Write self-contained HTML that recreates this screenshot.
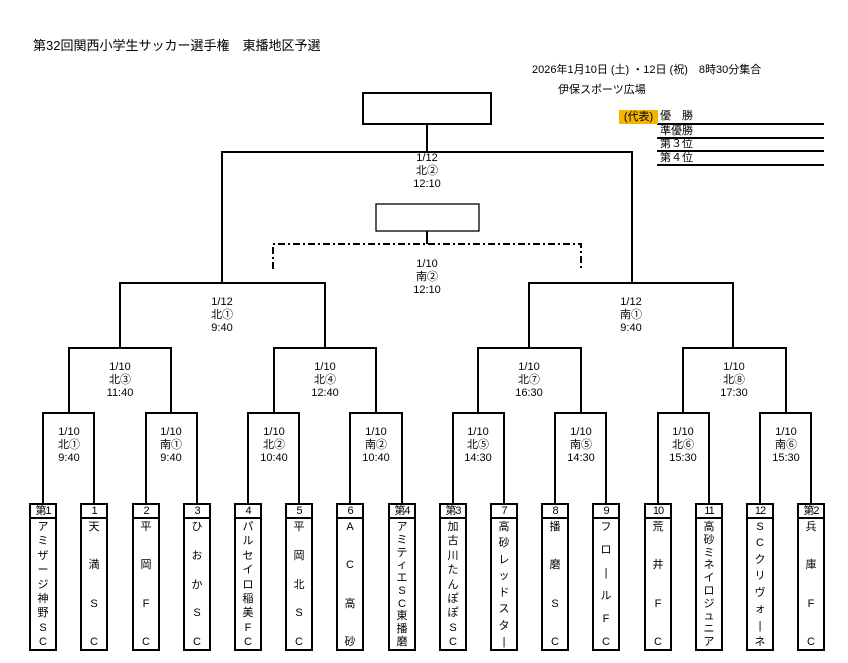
<!DOCTYPE html>
<html><head><meta charset="utf-8"><style>
body{margin:0;width:848px;height:663px;background:#fff;position:relative;overflow:hidden;font-family:"Liberation Sans","Noto Sans CJK JP",sans-serif;color:#000}
.t{position:absolute;white-space:nowrap}
.lab{position:absolute;width:80px;margin-left:-40px;text-align:center;font-size:11px;line-height:13px}
.box{position:absolute;top:503px;width:24px;height:144px;border:2px solid #000;margin-left:-14px;background:#fff}
.num{height:12px;border-bottom:2px solid #000;font-size:11px;line-height:12px;text-align:center;letter-spacing:-1px}
.nm{height:127px;display:flex;flex-direction:column;justify-content:space-between;align-items:center;font-size:11px;line-height:12px;padding:2px 0 0}
.lg{position:absolute;left:660px;font-size:11px;line-height:12px}
</style></head><body>
<svg width="848" height="663" style="position:absolute;left:0;top:0" fill="none" stroke="#000" stroke-width="2">
<rect x="363" y="93" width="128" height="31"/>
<path d="M427 124V152M222 283V152H632V283"/>
<rect x="376" y="204" width="103" height="27" stroke-width="1.3"/>
<path d="M427 231V244" />
<path d="M273 269V244H581V269" stroke-dasharray="7 3 2 3"/>
<path d="M120 348V283H325V348M529 348V283H733V348"/>
<path d="M69 413V348H171V413M274 413V348H376V413M478 413V348H581V413M683 413V348H786V413"/>
<path d="M43 504V413H94V504M146 504V413H197V504M248 504V413H299V504M350 504V413H402V504M453 504V413H504V504M555 504V413H606V504M658 504V413H709V504M760 504V413H811V504"/>
<path d="M657 124H824M657 138H824M657 151H824M657 165H824" stroke-width="2"/>
</svg>
<div class="t" style="left:33px;top:35px;font-size:13px">第32回関西小学生サッカー選手権　東播地区予選</div>
<div class="t" style="left:532px;top:61px;font-size:11px">2026年1月10日 (土) ・12日 (祝)　8時30分集合</div>
<div class="t" style="left:558px;top:81px;font-size:11px">伊保スポーツ広場</div>
<div class="t" style="left:619px;top:110px;width:39px;height:14px;background:#f5b400;font-size:11px;line-height:14px;text-align:center">(代表)</div>
<div class="lg" style="top:110px">優　勝</div>
<div class="lg" style="top:125px">準優勝</div>
<div class="lg" style="top:138px">第３位</div>
<div class="lg" style="top:152px">第４位</div>
<div class="lab" style="left:427px;top:152px">1/12<br>北②<br>12:10</div>
<div class="lab" style="left:427px;top:258px">1/10<br>南②<br>12:10</div>
<div class="lab" style="left:222px;top:296px">1/12<br>北①<br>9:40</div>
<div class="lab" style="left:631px;top:296px">1/12<br>南①<br>9:40</div>
<div class="lab" style="left:120px;top:361px">1/10<br>北③<br>11:40</div>
<div class="lab" style="left:325px;top:361px">1/10<br>北④<br>12:40</div>
<div class="lab" style="left:529px;top:361px">1/10<br>北⑦<br>16:30</div>
<div class="lab" style="left:734px;top:361px">1/10<br>北⑧<br>17:30</div>
<div class="lab" style="left:69px;top:426px">1/10<br>北①<br>9:40</div>
<div class="lab" style="left:171px;top:426px">1/10<br>南①<br>9:40</div>
<div class="lab" style="left:274px;top:426px">1/10<br>北②<br>10:40</div>
<div class="lab" style="left:376px;top:426px">1/10<br>南②<br>10:40</div>
<div class="lab" style="left:478px;top:426px">1/10<br>北⑤<br>14:30</div>
<div class="lab" style="left:581px;top:426px">1/10<br>南⑤<br>14:30</div>
<div class="lab" style="left:683px;top:426px">1/10<br>北⑥<br>15:30</div>
<div class="lab" style="left:786px;top:426px">1/10<br>南⑥<br>15:30</div>

<div class="box" style="left:43px"><div class="num">第1</div><div class="nm"><span>ア</span><span>ミ</span><span>ザ</span><span>ー</span><span>ジ</span><span>神</span><span>野</span><span>S</span><span>C</span></div></div>
<div class="box" style="left:94px"><div class="num">1</div><div class="nm"><span>天</span><span>満</span><span>S</span><span>C</span></div></div>
<div class="box" style="left:146px"><div class="num">2</div><div class="nm"><span>平</span><span>岡</span><span>F</span><span>C</span></div></div>
<div class="box" style="left:197px"><div class="num">3</div><div class="nm"><span>ひ</span><span>お</span><span>か</span><span>S</span><span>C</span></div></div>
<div class="box" style="left:248px"><div class="num">4</div><div class="nm"><span>パ</span><span>ル</span><span>セ</span><span>イ</span><span>ロ</span><span>稲</span><span>美</span><span>F</span><span>C</span></div></div>
<div class="box" style="left:299px"><div class="num">5</div><div class="nm"><span>平</span><span>岡</span><span>北</span><span>S</span><span>C</span></div></div>
<div class="box" style="left:350px"><div class="num">6</div><div class="nm"><span>A</span><span>C</span><span>高</span><span>砂</span></div></div>
<div class="box" style="left:402px"><div class="num">第4</div><div class="nm"><span>ア</span><span>ミ</span><span>テ</span><span>ィ</span><span>エ</span><span>S</span><span>C</span><span>東</span><span>播</span><span>磨</span></div></div>
<div class="box" style="left:453px"><div class="num">第3</div><div class="nm"><span>加</span><span>古</span><span>川</span><span>た</span><span>ん</span><span>ぽ</span><span>ぽ</span><span>S</span><span>C</span></div></div>
<div class="box" style="left:504px"><div class="num">7</div><div class="nm"><span>高</span><span>砂</span><span>レ</span><span>ッ</span><span>ド</span><span>ス</span><span>タ</span><span>|</span></div></div>
<div class="box" style="left:555px"><div class="num">8</div><div class="nm"><span>播</span><span>磨</span><span>S</span><span>C</span></div></div>
<div class="box" style="left:606px"><div class="num">9</div><div class="nm"><span>フ</span><span>ロ</span><span>|</span><span>ル</span><span>F</span><span>C</span></div></div>
<div class="box" style="left:658px"><div class="num">10</div><div class="nm"><span>荒</span><span>井</span><span>F</span><span>C</span></div></div>
<div class="box" style="left:709px"><div class="num">11</div><div class="nm"><span>高</span><span>砂</span><span>ミ</span><span>ネ</span><span>イ</span><span>ロ</span><span>ジ</span><span>ュ</span><span>ニ</span><span>ア</span></div></div>
<div class="box" style="left:760px"><div class="num">12</div><div class="nm"><span>S</span><span>C</span><span>ク</span><span>リ</span><span>ヴ</span><span>ォ</span><span>|</span><span>ネ</span></div></div>
<div class="box" style="left:811px"><div class="num">第2</div><div class="nm"><span>兵</span><span>庫</span><span>F</span><span>C</span></div></div>
</body></html>
